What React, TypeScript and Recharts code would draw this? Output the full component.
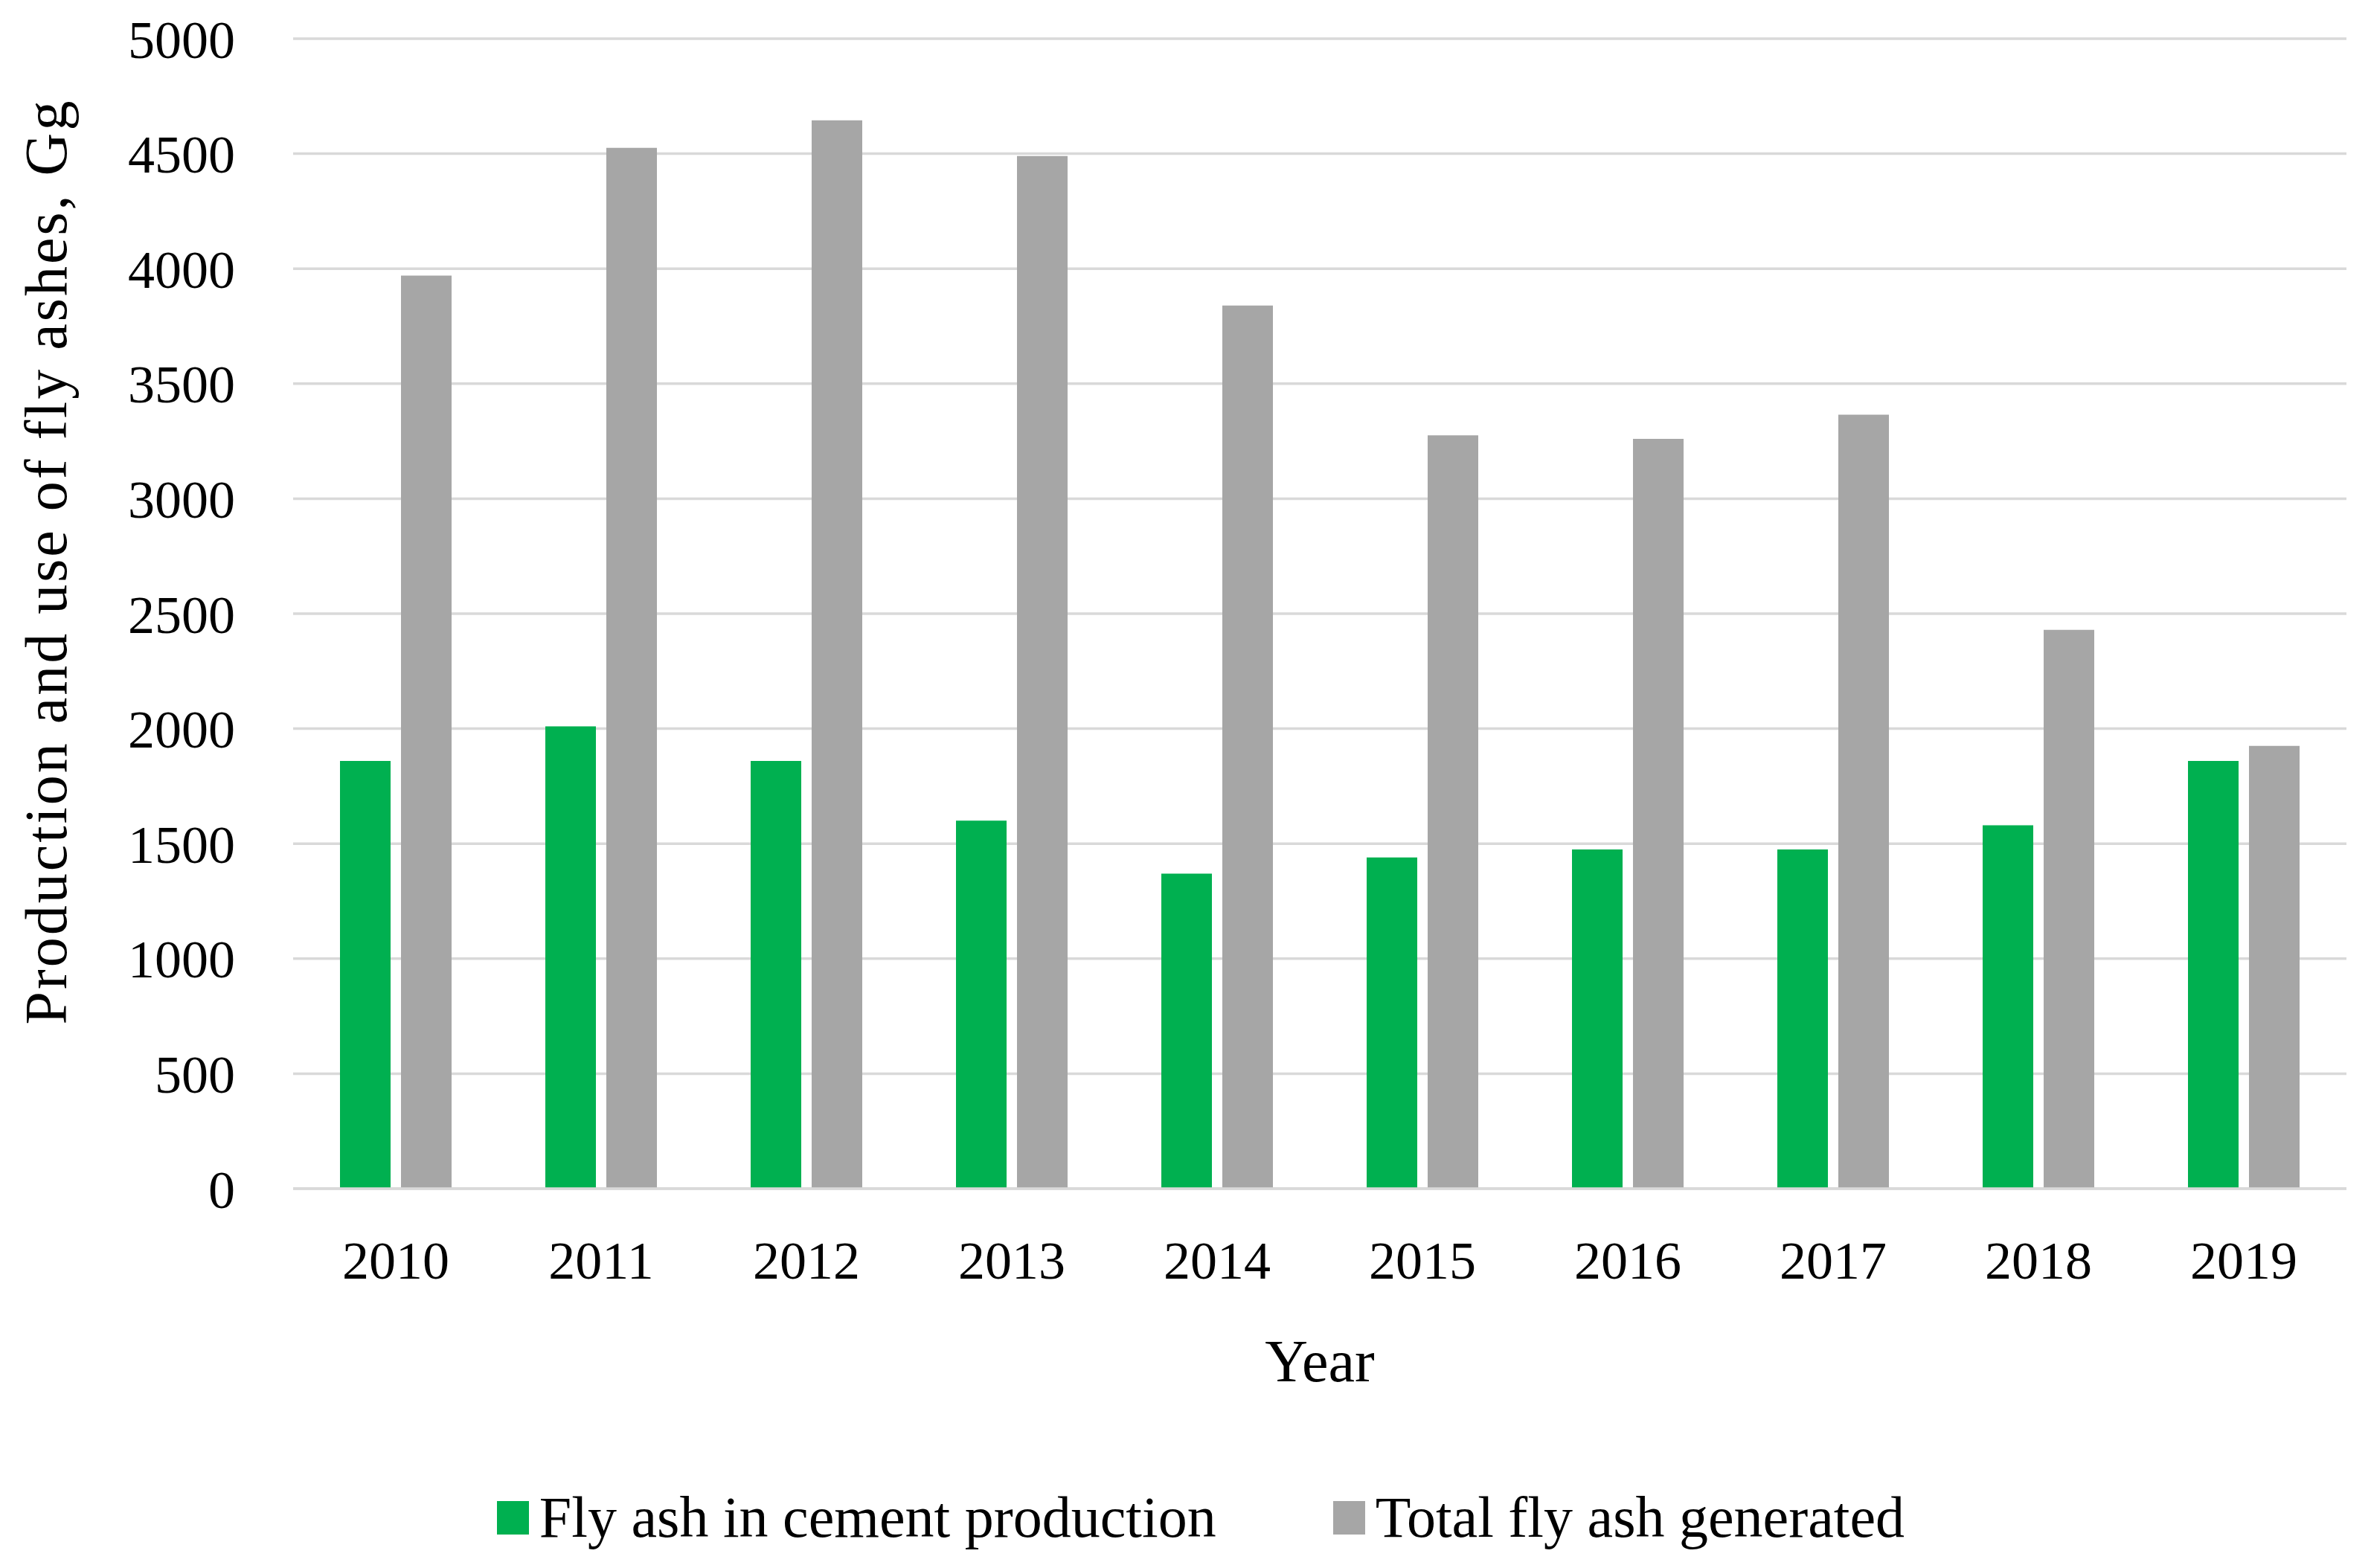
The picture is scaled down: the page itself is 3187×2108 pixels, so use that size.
import React from "react";
import { BarChart, Bar, XAxis, YAxis, CartesianGrid, Legend } from "recharts";

const years = ["2010", "2011", "2012", "2013", "2014", "2015", "2016", "2017", "2018", "2019"];
const cementUse = [1860, 2010, 1860, 1600, 1370, 1440, 1475, 1475, 1580, 1860];
const totalGenerated = [3970, 4525, 4645, 4490, 3840, 3275, 3260, 3365, 2430, 1925];
const yTicks = [0, 500, 1000, 1500, 2000, 2500, 3000, 3500, 4000, 4500, 5000];

const GREEN = "#00B050";
const GRAY = "#A6A6A6";
const FONT = "'Liberation Serif', 'Times New Roman', serif";

const seriesNames = {
  cement: "Fly ash in cement production",
  total: "Total fly ash generated",
};

function LegendBox() {
  const items = [
    { name: seriesNames.cement, color: GREEN },
    { name: seriesNames.total, color: GRAY },
  ];
  return (
    <div
      style={{
        height: 120,
        display: "flex",
        justifyContent: "center",
        alignItems: "center",
        gap: 157,
        paddingLeft: 74,
        boxSizing: "border-box",
        fontFamily: FONT,
        fontSize: 78,
        color: "#000",
      }}
    >
      {items.map((it) => (
        <div key={it.name} style={{ display: "flex", alignItems: "center", gap: 14 }}>
          <span style={{ display: "inline-block", width: 43, height: 45, background: it.color }} />
          <span>{it.name}</span>
        </div>
      ))}
    </div>
  );
}

export default function App() {
  const data = years.map((y, i) => ({
    year: y,
    cement: cementUse[i],
    total: totalGenerated[i],
  }));

  return (
    <div style={{ width: 3187, height: 2108, background: "#fff" }}>
      <style>{`body{margin:0;background:#fff}`}</style>
      <BarChart
        width={3187}
        height={2108}
        data={data}
        margin={{ top: 52, right: 33, bottom: 8, left: 0 }}
        barCategoryGap={63}
        barGap={14}
      >
        <CartesianGrid vertical={false} stroke="#D9D9D9" strokeWidth={3.5} />
        <XAxis
          dataKey="year"
          height={382}
          axisLine={{ stroke: "#D9D9D9", strokeWidth: 3.5 }}
          tickLine={false}
          tickSize={0}
          tickMargin={70}
          tick={{ fontFamily: FONT, fontSize: 72, fill: "#000" }}
          label={{
            content: ({ viewBox }: any) => (
              <text
                x={viewBox.x + viewBox.width / 2}
                y={viewBox.y + 232}
                textAnchor="middle"
                dominantBaseline="central"
                fontFamily={FONT}
                fontSize={80}
                fill="#000"
              >
                Year
              </text>
            ),
          }}
        />
        <YAxis
          width={394}
          domain={[0, 5000]}
          ticks={yTicks}
          interval={0}
          axisLine={false}
          tickLine={false}
          tickSize={0}
          tickMargin={78}
          tick={{ fontFamily: FONT, fontSize: 72, fill: "#000" }}
          label={{
            content: ({ viewBox }: any) => {
              const cx = 62;
              const cy = viewBox.y + viewBox.height / 2 - 70;
              return (
                <text
                  x={cx}
                  y={cy}
                  transform={`rotate(-90, ${cx}, ${cy})`}
                  textAnchor="middle"
                  dominantBaseline="central"
                  fontFamily={FONT}
                  fontSize={80}
                  letterSpacing={3}
                  fill="#000"
                >
                  Production and use of fly ashes, Gg
                </text>
              );
            },
          }}
        />
        <Legend verticalAlign="bottom" content={() => <LegendBox />} />
        <Bar dataKey="cement" name={seriesNames.cement} fill={GREEN} isAnimationActive={false} />
        <Bar dataKey="total" name={seriesNames.total} fill={GRAY} isAnimationActive={false} />
      </BarChart>
    </div>
  );
}
